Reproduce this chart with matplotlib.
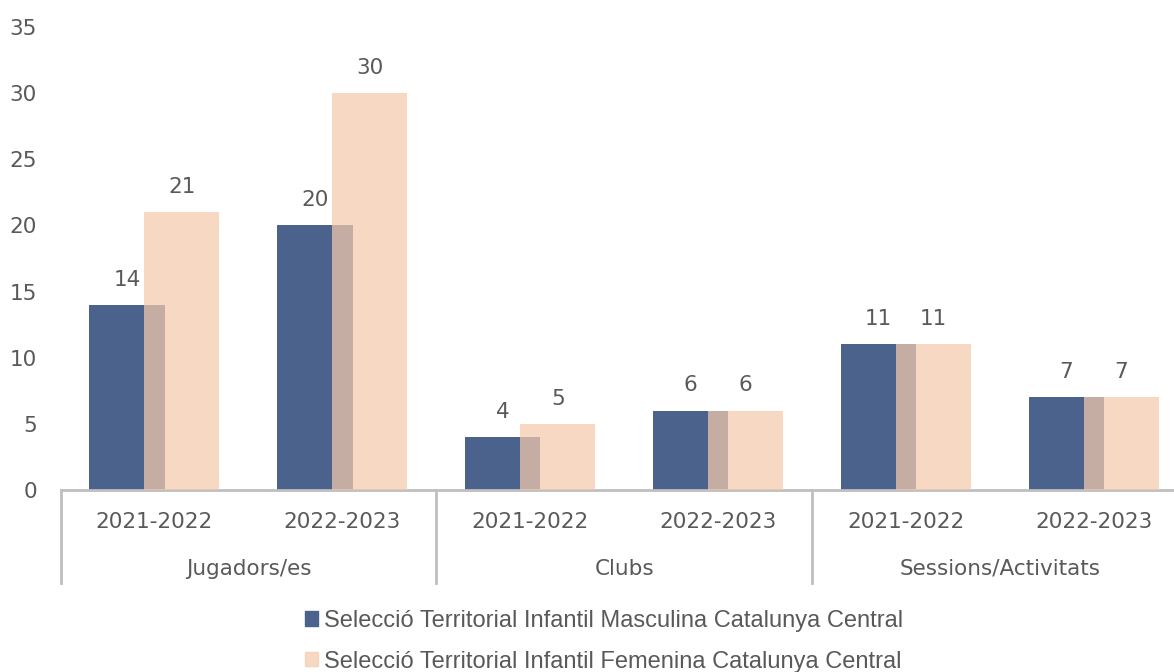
import numpy as np
import matplotlib.pyplot as plt
from matplotlib.patches import Patch

# Data
groups = ['Jugadors/es', 'Clubs', 'Sessions/Activitats']
seasons = ['2021-2022', '2022-2023']
masculina = [14, 20, 4, 6, 11, 7]
femenina = [21, 30, 5, 6, 11, 7]
series_names = ['Selecció Territorial Infantil Masculina Catalunya Central',
                'Selecció Territorial Infantil Femenina Catalunya Central']

BLUE = '#4A628C'
PEACH = '#F5CBAD'
TXT = '#595959'
GRID = '#BFBFBF'
FS = 15.5

plt.rcParams['font.family'] = ['DejaVu Sans']

fig = plt.figure(figsize=(11.74, 6.72), dpi=100)
W, H = 1174, 672
x0, x1, y0, y1 = 60.5, 1188, 490, 27
ax = fig.add_axes([x0 / W, 1 - y0 / H, (x1 - x0) / W, (y0 - y1) / H])

x = np.arange(len(masculina))
w = 0.4
off = 0.146
ax.bar(x - off, masculina, w, color=BLUE, zorder=2)
ax.bar(x + off, femenina, w, color=PEACH, alpha=0.72, zorder=3)

for xi, v in zip(x, masculina):
    ax.annotate(str(v), (xi - off, v), xytext=(0, 11), textcoords='offset points',
                ha='center', va='bottom', fontsize=FS, color=TXT)
for xi, v in zip(x, femenina):
    ax.annotate(str(v), (xi + off, v), xytext=(0, 11), textcoords='offset points',
                ha='center', va='bottom', fontsize=FS, color=TXT)

ax.set_xlim(-0.5, len(x) - 0.5)
ax.set_ylim(0, 35)
ax.set_yticks(range(0, 36, 5))
ax.tick_params(axis='y', length=0, labelsize=FS, labelcolor=TXT, pad=17)
ax.set_xticks([])
for s in ['left', 'right', 'top']:
    ax.spines[s].set_visible(False)
ax.spines['bottom'].set_color(GRID)
ax.spines['bottom'].set_linewidth(2)

# multi-level category axis
tr = ax.get_xaxis_transform()
h = y0 - y1
for i, xi in enumerate(x):
    ax.text(xi, -32 / h, seasons[i % 2], transform=tr, ha='center', va='center',
            fontsize=FS, color=TXT, clip_on=False)
for g, name in enumerate(groups):
    ax.text(2 * g + 0.5, -79 / h, name, transform=tr, ha='center', va='center',
            fontsize=FS, color=TXT, clip_on=False)
for b in [-0.5, 1.5, 3.5, 5.5]:
    ax.plot([b, b], [0, -93 / h], transform=tr, color=GRID, lw=2, clip_on=False)

handles = [Patch(color=BLUE), Patch(color=PEACH, alpha=0.72)]
fig.legend(handles, series_names, loc='upper left', bbox_to_anchor=(293 / W, 1 - 598 / H),
           frameon=False, prop={'family': 'Liberation Sans', 'size': 17},
           labelcolor=TXT, handlelength=0.55, handleheight=0.55, handletextpad=0.25,
           labelspacing=0.8, borderpad=0)

fig.savefig('out.png', dpi=100)
